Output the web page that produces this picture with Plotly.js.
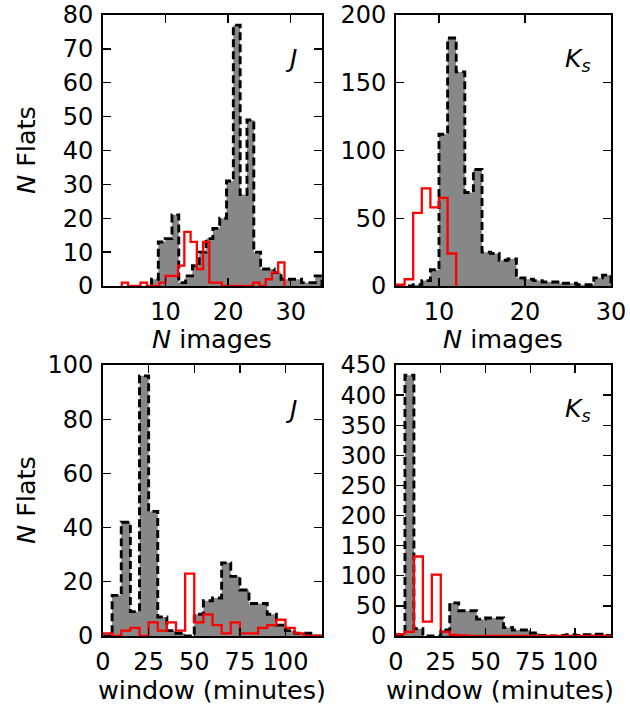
<!DOCTYPE html>
<html>
<head>
<meta charset="utf-8">
<script src="https://cdn.plot.ly/plotly-3.0.1.min.js"></script>
<style>
  html, body { margin: 0; padding: 0; background: #fff; }
  #chart { width: 630px; height: 705px; }
</style>
</head>
<body>
<div id="chart"></div>
<script>
// ---- Data ----
// Top-left: J band, N images per flat
const tlGreyStart = 7.75, tlGreyWidth = 1.09;
const tlGreyCounts = [2, 13, 14, 21, 1, 3, 6, 10, 14, 17, 20, 31, 77, 27, 49, 10, 5, 5, 4, 2, 2, 2, 1, 1, 3];
const tlRedStart = 3, tlRedWidth = 1;
const tlRedCounts = [1, 0, 0, 1, 0, 0, 1, 3, 3, 6, 16, 13, 5, 13, 1, 1, 0, 0, 0, 0, 0, 1, 0, 2, 4, 7];

// Top-right: Ks band, N images per flat
const trGreyStart = 5, trGreyWidth = 1;
const trGreyCounts = [0, 0, 1, 4, 12, 112, 183, 158, 69, 86, 25, 24, 19, 20, 6, 5, 4, 3, 3, 2, 2, 1, 1, 6, 8];
const trRedStart = 5, trRedWidth = 1;
const trRedCounts = [1, 5, 54, 72, 58, 65, 24];

// Bottom-left: J band, window (minutes)
const blGreyStart = 0, blGreyWidth = 5;
const blGreyCounts = [0, 15, 42, 9, 96, 46, 7, 2, 1, 0, 8, 13, 14, 27, 22, 17, 12, 12, 8, 4, 2, 1, 1, 0];
const blRedStart = 0, blRedWidth = 5;
const blRedCounts = [1, 0, 2, 3, 0, 5, 2, 5, 2, 23, 5, 8, 4, 1, 5, 1, 1, 3, 4, 6, 3, 1, 0, 0];

// Bottom-right: Ks band, window (minutes)
const brGreyStart = 0, brGreyWidth = 5;
const brGreyCounts = [0, 433, 12, 0, 0, 10, 55, 42, 42, 28, 30, 30, 14, 10, 10, 5, 1, 0, 1, 2, 1, 2, 3, 1];
const brRedStart = 0, brRedWidth = 5;
const brRedCounts = [3, 7, 132, 24, 102, 7, 2, 1, 0, 0, 0, 0, 0, 0, 0, 0, 0, 0, 0, 0, 0, 0, 0, 0];

// Tick values
const tlXTicks = [10, 20, 30], tlYTicks = [0, 10, 20, 30, 40, 50, 60, 70, 80];
const trXTicks = [10, 20, 30], trYTicks = [0, 50, 100, 150, 200];
const blXTicks = [0, 25, 50, 75, 100], blYTicks = [0, 20, 40, 60, 80, 100];
const brXTicks = [0, 25, 50, 75, 100], brYTicks = [0, 50, 100, 150, 200, 250, 300, 350, 400, 450];

// ---- Helpers ----
function stepXY(start, width, counts) {
  const x = [start], y = [0];
  for (let i = 0; i < counts.length; i++) { x.push(start + i * width); y.push(counts[i]); }
  x.push(start + counts.length * width); y.push(0);
  return { x: x, y: y };
}
function greyTrace(start, width, counts, xa, ya) {
  const s = stepXY(start, width, counts);
  return { type: 'scatter', mode: 'lines', x: s.x, y: s.y, xaxis: xa, yaxis: ya,
    line: { shape: 'hv', color: 'black', width: 2.9, dash: '8px,4px' },
    fill: 'tozeroy', fillcolor: '#878787', hoverinfo: 'skip' };
}
function redTrace(start, width, counts, xa, ya) {
  const s = stepXY(start, width, counts);
  return { type: 'scatter', mode: 'lines', x: s.x, y: s.y, xaxis: xa, yaxis: ya,
    line: { shape: 'hv', color: '#ff0000', width: 2.3 }, hoverinfo: 'skip' };
}

const data = [
  greyTrace(tlGreyStart, tlGreyWidth, tlGreyCounts, 'x', 'y'),
  redTrace(tlRedStart, tlRedWidth, tlRedCounts, 'x', 'y'),
  greyTrace(trGreyStart, trGreyWidth, trGreyCounts, 'x2', 'y2'),
  redTrace(trRedStart, trRedWidth, trRedCounts, 'x2', 'y2'),
  greyTrace(blGreyStart, blGreyWidth, blGreyCounts, 'x3', 'y3'),
  redTrace(blRedStart, blRedWidth, blRedCounts, 'x3', 'y3'),
  greyTrace(brGreyStart, brGreyWidth, brGreyCounts, 'x4', 'y4'),
  redTrace(brRedStart, brRedWidth, brRedCounts, 'x4', 'y4')
];

const FONT = 'DejaVu Sans, sans-serif';
function ax(extra) {
  return Object.assign({
    showline: true, linecolor: 'black', linewidth: 1.8, mirror: 'allticks',
    ticks: 'inside', ticklen: 8, tickwidth: 1.4, tickcolor: 'black',
    showgrid: false, zeroline: false, tickmode: 'array',
    tickfont: { family: FONT, size: 24, color: 'black' },
    ticklabelstandoff: 3, automargin: false, fixedrange: true
  }, extra);
}

const L = [103 / 630, 322 / 630], R = [396 / 630, 611 / 630];
const T = [419 / 705, 690 / 705], B = [69 / 705, 340 / 705];

function note(text, px, py, size, angle) {
  return { text: text, xref: 'paper', yref: 'paper', x: px / 630, y: (705 - py) / 705,
    xanchor: 'center', yanchor: 'middle', textangle: angle || 0, showarrow: false,
    font: { size: size, family: FONT, color: 'black' } };
}

const layout = {
  width: 630, height: 705,
  margin: { l: 0, r: 0, t: 0, b: 0 },
  paper_bgcolor: 'white', plot_bgcolor: 'white',
  showlegend: false,
  font: { family: FONT, color: 'black' },
  xaxis:  ax({ domain: L, range: [0, 35], tickvals: tlXTicks, anchor: 'y' }),
  yaxis:  ax({ domain: T, range: [0, 80], tickvals: tlYTicks, anchor: 'x' }),
  xaxis2: ax({ domain: R, range: [5, 30], tickvals: trXTicks, anchor: 'y2' }),
  yaxis2: ax({ domain: T, range: [0, 200], tickvals: trYTicks, anchor: 'x2' }),
  xaxis3: ax({ domain: L, range: [0, 120], tickvals: blXTicks, anchor: 'y3' }),
  yaxis3: ax({ domain: B, range: [0, 100], tickvals: blYTicks, anchor: 'x3' }),
  xaxis4: ax({ domain: R, range: [0, 120], tickvals: brXTicks, anchor: 'y4' }),
  yaxis4: ax({ domain: B, range: [0, 450], tickvals: brYTicks, anchor: 'x4' }),
  annotations: [
    note('<i>N</i> Flats', 26, 150, 25.5, -90),
    note('<i>N</i> Flats', 26, 500, 25.5, -90),
    note('<i>N</i> images', 212, 339, 25.5),
    note('<i>N</i> images', 503, 339, 25.5),
    note('window (minutes)', 212, 690, 25.5),
    note('window (minutes)', 500, 690, 25.5),
    note('<i>J</i>', 291, 58, 25),
    note('<i>J</i>', 291, 410, 25),
    note('<i>K<sub>s</sub></i>', 578, 60, 25),
    note('<i>K<sub>s</sub></i>', 578, 410, 25)
  ]
};

Plotly.newPlot('chart', data, layout, { staticPlot: true, displayModeBar: false });
</script>
</body>
</html>
